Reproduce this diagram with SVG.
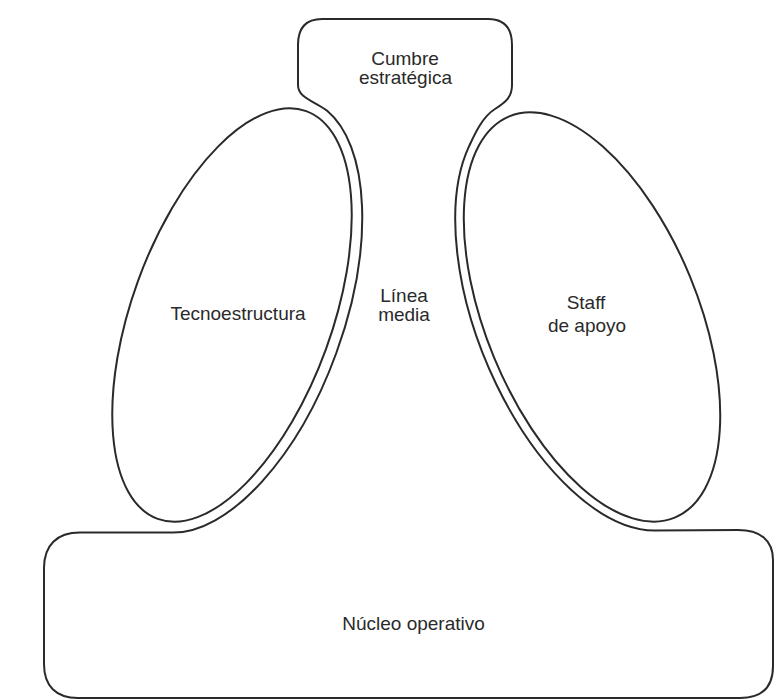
<svg xmlns="http://www.w3.org/2000/svg" width="775" height="700" viewBox="0 0 775 700">
<style>
.ln{fill:none;stroke:#2a2a2a;stroke-width:2;stroke-linejoin:round}
.t{font-family:"Liberation Sans",Arial,sans-serif;font-size:19px;fill:#2a2a2a;text-anchor:middle}
</style>
<rect width="775" height="700" fill="#ffffff"/>
<g id="outline">
<path class="ln" d="M298,85 C298,98 314,101 326.9,110.6 A111 228 20 0 1 173.3,532.6 L80,532.6 C57,532.6 44,545 44,568 L44,664 C44,686 56,698 78,698 L740,698 C762,698 773,688 773,666 L773,560 C773,540 760,530 738,530 L654.6,530.5 A115 226 -22.4 0 1 469.1,146.2 C474,135.5 482,117 495,109 C506,102 512,97 512,85 L512,45 C512,27 504,19 488,19 L322,19 C306,19 298,27 298,45 Z"/>
</g>
<g id="cumbre">
<text class="t" x="405" y="65">Cumbre</text>
<text class="t" x="405.5" y="84">estratégica</text>
</g>
<g id="tecnoestructura">
<ellipse class="ln" cx="232" cy="315" rx="100" ry="217" transform="rotate(20 232 315)"/>
<text class="t" x="238" y="320">Tecnoestructura</text>
</g>
<g id="staff">
<ellipse class="ln" cx="592" cy="317" rx="106" ry="217" transform="rotate(-22.4 592 317)"/>
<text class="t" x="586" y="309">Staff</text>
<text class="t" x="587" y="332">de apoyo</text>
</g>
<g id="linea-media">
<text class="t" x="404" y="302">Línea</text>
<text class="t" x="404" y="321">media</text>
</g>
<g id="nucleo">
<text class="t" x="413.5" y="630">Núcleo operativo</text>
</g>
</svg>
